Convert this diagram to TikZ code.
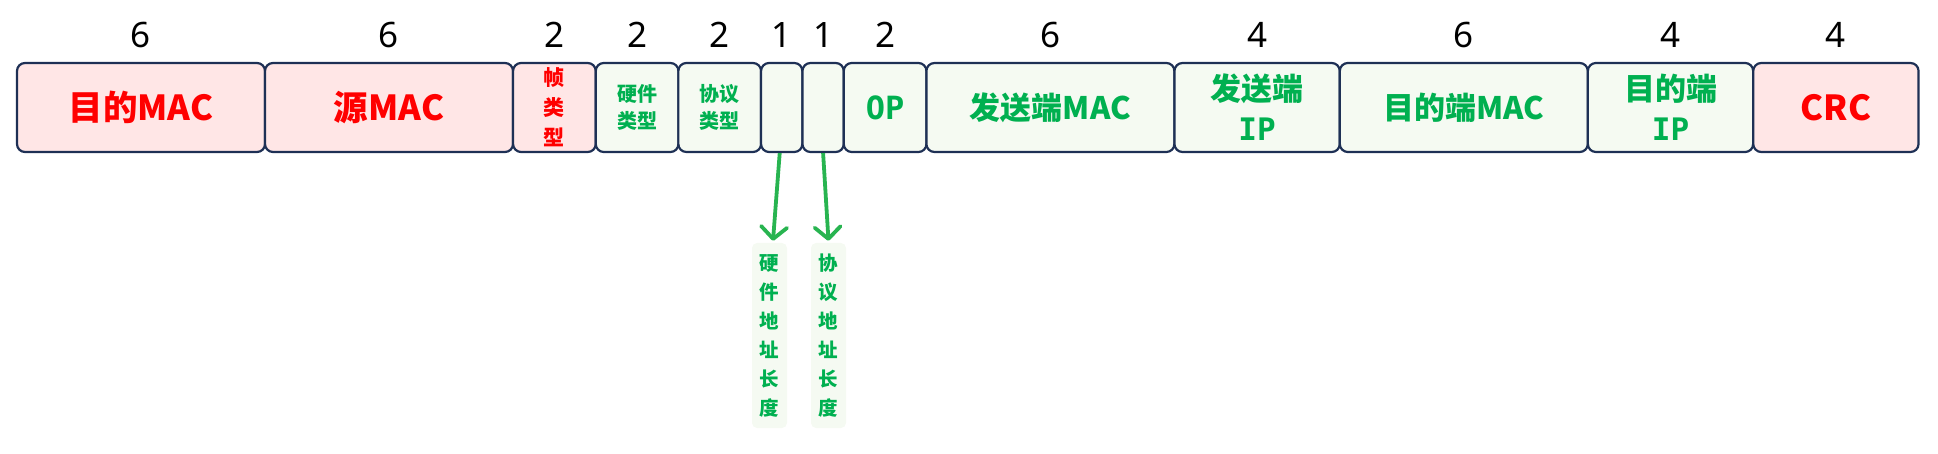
\documentclass[tikz,border=0pt]{standalone}
\usepackage{fontspec}
\setmainfont{Noto Sans}
\newfontfamily\cjk{Noto Sans CJK SC}
\newfontfamily\monof{DejaVu Sans Mono}[BoldFont={DejaVu Sans Mono Bold}]
\usetikzlibrary{arrows.meta}
\definecolor{navy}{RGB}{30,48,85}
\definecolor{pinkf}{RGB}{255,230,230}
\definecolor{greenf}{RGB}{245,250,242}
\definecolor{redt}{RGB}{255,0,0}
\definecolor{greent}{RGB}{0,176,80}
\definecolor{arrowc}{RGB}{40,180,80}
\tikzset{
  fld/.style={draw=navy, line width=2.2pt, rounded corners=8pt, minimum height=89pt, inner sep=0pt, align=center},
  redf/.style={fld, fill=pinkf, text=redt},
  grnf/.style={fld, fill=greenf, text=greent},
  bigr/.style={font=\cjk\bfseries\fontsize{34.5}{42}\selectfont},
  bigg/.style={font=\cjk\bfseries\fontsize{31}{40}\selectfont},
  smallf/.style={font=\cjk\bfseries\fontsize{20}{27}\selectfont},
  num/.style={font=\fontsize{35}{40}\selectfont, text=black, inner sep=0pt},
  lenbox/.style={fill=greenf, rounded corners=5pt, minimum width=35pt, minimum height=185pt, inner sep=0pt, align=center, text=greent, font=\cjk\bfseries\fontsize{19.5}{29}\selectfont},
  arr/.style={draw=arrowc, line width=3.8pt, -{Straight Barb[length=12pt,width=26pt,round]}}
}
\newcommand{\ipl}{{\monof\bfseries IP}}
\begin{document}
\begin{tikzpicture}[x=1pt,y=-1pt]
\useasboundingbox (0,0) rectangle (1938,454);
% fields
\node[redf, bigr, minimum width=248.0pt] (f1) at (141.0,107.5) {目的MAC};
\node[redf, bigr, minimum width=248.0pt] (f2) at (389.0,107.5) {源MAC};
\node[redf, font=\cjk\bfseries\fontsize{21}{30}\selectfont, minimum width=82.7pt] (f3) at (554.4,107.5) {帧\\类\\型};
\node[grnf, smallf, minimum width=82.7pt] (f4) at (637.1,107.5) {硬件\\类型};
\node[grnf, smallf, minimum width=82.7pt] (f5) at (719.7,107.5) {协议\\类型};
\node[grnf, minimum width=41.3pt] (f6) at (781.7,107.5) {};
\node[grnf, minimum width=41.3pt] (f7) at (823.1,107.5) {};
\node[grnf, font=\monof\bfseries\fontsize{32}{40}\selectfont, minimum width=82.7pt] (f8) at (885.1,107.5) {OP};
\node[grnf, bigg, minimum width=248.0pt] (f9) at (1050.4,107.5) {发送端MAC};
\node[grnf, bigg, minimum width=165.3pt] (f10) at (1257.1,107.5) {发送端\\\ipl};
\node[grnf, bigg, minimum width=248.0pt] (f11) at (1463.8,107.5) {目的端MAC};
\node[grnf, bigg, minimum width=165.3pt] (f12) at (1670.5,107.5) {目的端\\\ipl};
\node[redf, bigr, minimum width=165.3pt] (f13) at (1835.9,107.5) {CRC};
% byte counts
\node[num] (n1) at (141.0,35) {6};
\node[num] (n2) at (389.0,35) {6};
\node[num] (n3) at (554.4,35) {2};
\node[num] (n4) at (637.1,35) {2};
\node[num] (n5) at (719.7,35) {2};
\node[num] (n6) at (781.7,35) {1};
\node[num] (n7) at (823.1,35) {1};
\node[num] (n8) at (885.1,35) {2};
\node[num] (n9) at (1050.4,35) {6};
\node[num] (n10) at (1257.1,35) {4};
\node[num] (n11) at (1463.8,35) {6};
\node[num] (n12) at (1670.5,35) {4};
\node[num] (n13) at (1835.9,35) {4};
% length labels
\node[lenbox] (l1) at (769.5,335.5) {硬\\件\\地\\址\\长\\度};
\node[lenbox] (l2) at (828.5,335.5) {协\\议\\地\\址\\长\\度};
\draw[arr] ([xshift=-2pt]f6.south) -- ([xshift=3.5pt,yshift=2pt]l1.north);
\draw[arr] (f7.south) -- ([yshift=2pt]l2.north);
\end{tikzpicture}
\end{document}
